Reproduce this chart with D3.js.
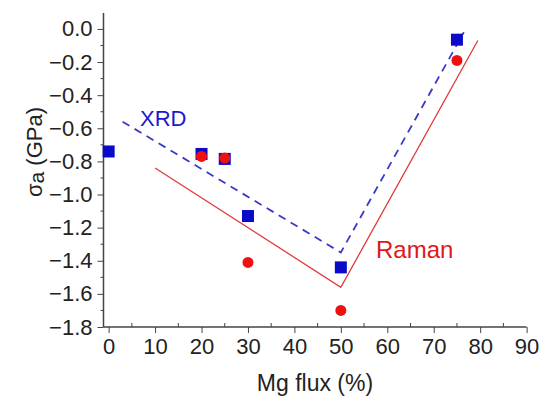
<!DOCTYPE html>
<html>
<head>
<meta charset="utf-8">
<script src="https://cdn.jsdelivr.net/npm/d3@7"></script>
<style>
html,body{margin:0;padding:0;background:#fff;}
svg{display:block;font-family:"Liberation Sans",Arial,sans-serif;}
</style>
</head>
<body>
<svg id="chart" width="539" height="399"></svg>
<script>
// Data
const xrdX = [0, 20, 25, 30, 50, 75];
const xrdY = [-0.74, -0.755, -0.785, -1.13, -1.44, -0.065];
const ramanX = [20, 25, 30, 50, 75];
const ramanY = [-0.77, -0.78, -1.41, -1.70, -0.19];
const xrdFitX = [3, 50, 76.5];
const xrdFitY = [-0.56, -1.35, -0.02];
const ramanFitX = [10, 50, 79.5];
const ramanFitY = [-0.84, -1.56, -0.07];
const xTicks = [0, 10, 20, 30, 40, 50, 60, 70, 80, 90];
const yTicks = [0.0, -0.2, -0.4, -0.6, -0.8, -1.0, -1.2, -1.4, -1.6, -1.8];

(function () {
const svg = d3.select("#chart");
const pL = 103.5, pT = 13, pB = 327;
const x = d3.scaleLinear().domain([-1, 90]).range([pL + 0.5, pL + 0.5 + 91 * 4.644]);
const y = d3.scaleLinear().domain([-1.8, 0.1]).range([pB, pB - 1.9 * 165.6]);
const fs = 22;

// Axes
const xAxis = d3.axisBottom(x).tickValues(xTicks).tickFormat(d3.format("d")).tickSizeInner(6).tickSizeOuter(0).tickPadding(5);
const gx = svg.append("g").attr("transform", `translate(0,${pB})`).call(xAxis);
gx.select(".domain").attr("d", `M${pL},0H${x(90)}`);
svg.append("g").selectAll("line").data(d3.range(5, 90, 10)).join("line")
  .attr("x1", d => x(d)).attr("x2", d => x(d)).attr("y1", pB).attr("y2", pB - 4)
  .attr("stroke", "#444").attr("stroke-width", 1);

const yAxis = d3.axisLeft(y).tickValues(yTicks).tickFormat(d3.format(".1f")).tickSizeInner(6).tickSizeOuter(0).tickPadding(5);
const gy = svg.append("g").attr("transform", `translate(${pL},0)`).call(yAxis);
gy.select(".domain").attr("d", `M0,${pT}V${pB}`);
svg.append("g").selectAll("line").data(d3.range(-1.7, 0.05, 0.2)).join("line")
  .attr("x1", pL).attr("x2", pL - 3).attr("y1", d => y(d)).attr("y2", d => y(d))
  .attr("stroke", "#444").attr("stroke-width", 1);

svg.selectAll(".domain").attr("stroke", "#444").attr("stroke-width", 1.5);
svg.selectAll(".tick line").attr("stroke", "#444").attr("stroke-width", 1);
svg.selectAll(".tick text").attr("font-size", fs).attr("fill", "#222")
  .attr("font-family", "'Liberation Sans',Arial,sans-serif");

// Axis titles
svg.append("text").attr("x", 315).attr("y", 391).attr("text-anchor", "middle")
  .attr("font-size", 23).attr("fill", "#222").text("Mg flux (%)");
const yt = svg.append("text").attr("transform", "translate(42,152) rotate(-90)")
  .attr("text-anchor", "middle").attr("font-size", fs).attr("fill", "#222");
yt.append("tspan").text("σ");
yt.append("tspan").attr("dy", 2).attr("font-size", fs - 1).text("a");
yt.append("tspan").attr("dy", -2).text(" (GPa)");

// Fit lines
const line = d3.line().x(d => x(d[0])).y(d => y(d[1]));
svg.append("path").datum(ramanFitX.map((v, i) => [v, ramanFitY[i]]))
  .attr("d", line).attr("fill", "none").attr("stroke", "#e03a3a").attr("stroke-width", 1.3);
svg.append("path").datum(xrdFitX.map((v, i) => [v, xrdFitY[i]]))
  .attr("d", line).attr("fill", "none").attr("stroke", "#3a3ac8").attr("stroke-width", 1.8)
  .attr("stroke-dasharray", "8,6");

// XRD squares
const s = 12;
svg.append("g").selectAll("rect").data(xrdX.map((v, i) => [v, xrdY[i]])).join("rect")
  .attr("x", d => x(d[0]) - s / 2).attr("y", d => y(d[1]) - s / 2)
  .attr("width", s).attr("height", s).attr("fill", "#0a0ac8");

// Raman circles
svg.append("g").selectAll("circle").data(ramanX.map((v, i) => [v, ramanY[i]])).join("circle")
  .attr("cx", d => x(d[0])).attr("cy", d => y(d[1])).attr("r", 5.5).attr("fill", "#ee1111");

// Labels
svg.append("text").attr("x", 140).attr("y", 126).attr("font-size", 22).attr("fill", "#1a1acc").text("XRD");
svg.append("text").attr("x", 376).attr("y", 258).attr("font-size", 24).attr("fill", "#e01818").text("Raman");
})();
</script>
</body>
</html>
